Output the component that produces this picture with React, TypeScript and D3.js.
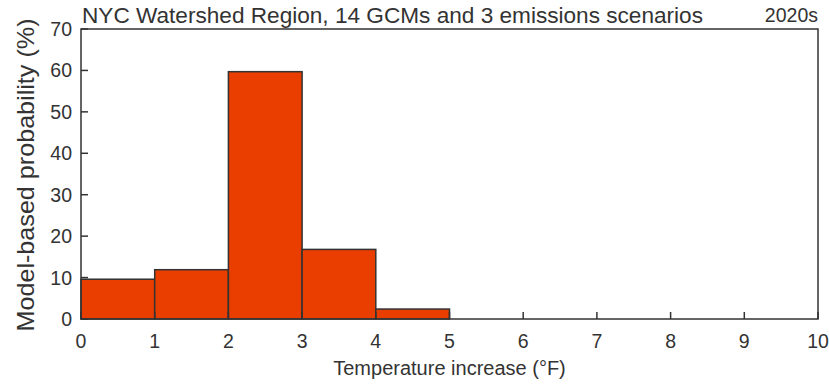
import React from "react";
import * as d3 from "d3";

const binStarts = [0, 1, 2, 3, 4];
const binWidth = 1;
const probabilities = [9.6, 11.9, 59.7, 16.8, 2.4];
const xTicks = [0, 1, 2, 3, 4, 5, 6, 7, 8, 9, 10];
const yTicks = [0, 10, 20, 30, 40, 50, 60, 70];
const title = "NYC Watershed Region, 14 GCMs and 3 emissions scenarios";
const period = "2020s";
const xLabel = "Temperature increase (°F)";
const yLabel = "Model-based probability (%)";

const W = 829;
const H = 384;
const m = { left: 81, right: 11, top: 29, bottom: 65 };
const FONT = "Liberation Sans, Arial, sans-serif";
const INK = "#333333";

export default function App() {
  const x = d3.scaleLinear().domain([0, 10]).range([m.left, W - m.right]);
  const y = d3.scaleLinear().domain([0, 70]).range([H - m.bottom, m.top]);
  const x0 = x(0), x1 = x(10), y0 = y(0), y1 = y(70);
  return (
    <svg width={W} height={H} style={{ position: "absolute", left: 0, top: 0, background: "#fff" }} fontFamily={FONT}>
      {binStarts.map((b, i) => (
        <rect key={i} x={x(b)} y={y(probabilities[i])} width={x(b + binWidth) - x(b)} height={y(0) - y(probabilities[i])}
          fill="#EA3D00" stroke={INK} strokeWidth={1.5} />
      ))}
      <rect x={x0} y={y1} width={x1 - x0} height={y0 - y1} fill="none" stroke={INK} strokeWidth={1.5} />
      {yTicks.map((t) => (
        <g key={"y" + t}>
          <line x1={x0} x2={x0 + 7} y1={y(t)} y2={y(t)} stroke={INK} strokeWidth={1.5} />
          <text x={x0 - 9} y={y(t)} dy="0.36em" textAnchor="end" fontSize={19.5} fill={INK}>{t}</text>
        </g>
      ))}
      {xTicks.map((t) => (
        <g key={"x" + t}>
          <line x1={x(t)} x2={x(t)} y1={y0} y2={y0 - 7} stroke={INK} strokeWidth={1.5} />
          <text x={x(t)} y={348} textAnchor="middle" fontSize={19.5} fill={INK}>{t}</text>
        </g>
      ))}
      <text x={82} y={23} fontSize={22.5} textLength={621} lengthAdjust="spacingAndGlyphs" fill={INK}>{title}</text>
      <text x={x1} y={22} textAnchor="end" fontSize={19.5} fill={INK}>{period}</text>
      <text x={(x0 + x1) / 2} y={375} textAnchor="middle" fontSize={20} fill={INK}>{xLabel}</text>
      <text transform={`translate(34,175) rotate(-90)`} textAnchor="middle" fontSize={24.5} textLength={313} lengthAdjust="spacingAndGlyphs" fill={INK}>{yLabel}</text>
    </svg>
  );
}
